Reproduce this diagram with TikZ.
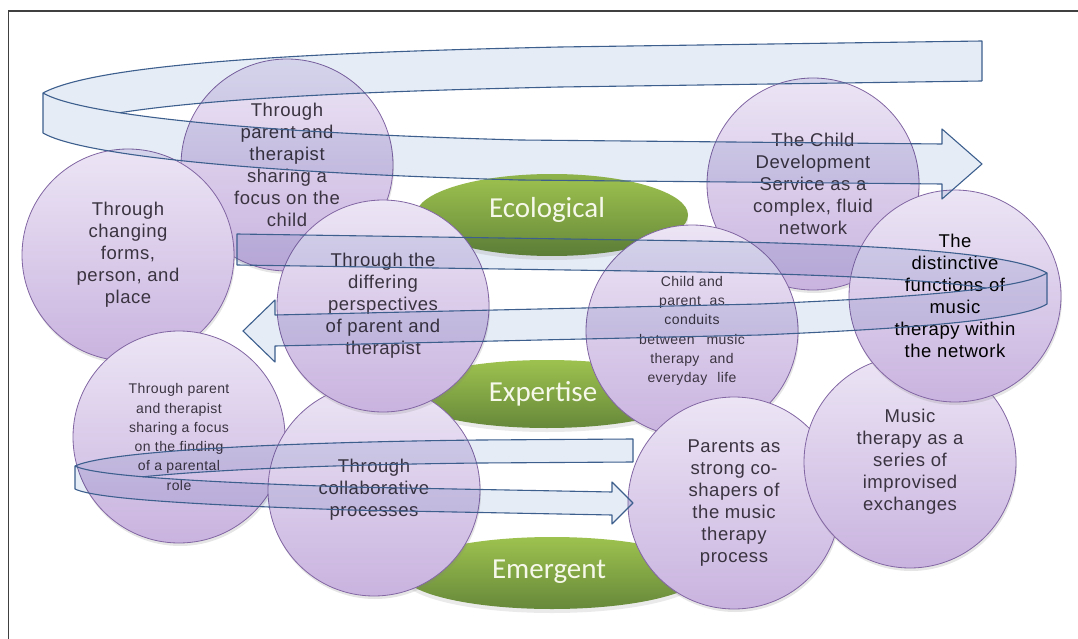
\documentclass[tikz,border=0pt]{standalone}
\usepackage{fontspec}
\setmainfont{Liberation Sans}
\newfontfamily\lvlfont{Carlito}
\newfontfamily\bubfont{Liberation Sans}[LetterSpace=3.0]
\usetikzlibrary{shapes.geometric,shadows,intersections}
\definecolor{lavtop}{HTML}{ECE5F5}
\definecolor{lavbot}{HTML}{C9B3DF}
\definecolor{lavline}{HTML}{8266A3}
\definecolor{grtop}{HTML}{9EC24F}
\definecolor{grbot}{HTML}{66883A}
\definecolor{ribfill}{HTML}{E6ECF5}
\definecolor{ribline}{HTML}{3C5F8E}
\definecolor{txt}{HTML}{3A3340}
\definecolor{framec}{HTML}{404040}
\definecolor{lvltxt}{HTML}{F6F8EA}
\begin{document}
\begin{tikzpicture}[x=1pt,y=-1pt,
  bubble/.style={circle, minimum size=212pt, inner sep=0pt, draw=lavline, line width=0.8pt,
    top color=lavtop, bottom color=lavbot,
    drop shadow={opacity=0.2, shadow xshift=1pt, shadow yshift=-3pt},
    align=center, text=txt, font=\bubfont\fontsize{18.5}{22}\selectfont},
  smallbub/.style={bubble, font=\bubfont\fontsize{14}{19.3}\selectfont},
  greenell/.style={ellipse, inner sep=0pt, top color=grtop, bottom color=grbot, draw=none,
    drop shadow={opacity=0.16, shadow xshift=0pt, shadow yshift=-4pt}},
  lvltext/.style={anchor=base, inner sep=0pt, text=lvltxt, font=\lvlfont\fontsize{29}{30}\selectfont},
  rib/.style={draw=ribline, line width=1.1pt, line join=round},
  ribf/.style={fill=ribfill},
]
\useasboundingbox (0,0) rectangle (1078,639);
\coordinate (O) at (0,0);
\coordinate (Bot) at (1078,639);
\fill[white] (0,0) rectangle (1078,639);
% frame
\draw[framec, line width=1.8pt] (1078,11) -- (8.5,11) -- (8.5,639);

% level ellipses
\node[greenell, minimum width=272pt, minimum height=82pt] (eco) at (552,215) {};
\node[greenell, minimum width=285pt, minimum height=68pt] (exp) at (547,394) {};
\node[greenell, minimum width=300pt, minimum height=72pt] (emg) at (552,573) {};

% circles, back to front
\node[bubble] (c1) at (287,165) {Through\\parent and\\therapist\\sharing a\\focus on the\\child};
\node[bubble] (c2) at (128,255) {Through\\changing\\forms,\\person, and\\place};
\node[smallbub] (c4) at (179,437) {Through parent\\and therapist\\sharing a focus\\on the finding\\of a parental\\role};
\node[bubble] (c5) at (374,490) {Through\\collaborative\\processes};
\node[bubble] (c3) at (383,306) {Through the\\differing\\perspectives\\of parent and\\therapist};
\node[bubble] (c6) at (813,184) {The Child\\Development\\Service as a\\complex, fluid\\network};
\node[smallbub] (c8) at (692,331) {Child and\\parent\ \ as\\conduits\\between\hspace{12pt}music\\therapy\hspace{10pt}and\\everyday\hspace{10pt}life};
\node[bubble] (c9) at (734,503) {Parents as\\strong co-\\shapers of\\the music\\therapy\\process};
\node[bubble] (c10) at (910,462) {Music\\therapy as a\\series of\\improvised\\exchanges};
\node[bubble, text=black] (c7) at (955,296) {The\\distinctive\\functions of\\music\\therapy within\\the network};

% level labels
\node[lvltext] (ecoT) at (547,218) {Ecological};
\node[lvltext] (expT) at (543,401) {Expertise};
\node[lvltext] (emgT) at (549,578) {Emergent};

% ===== ribbon fills (multiplied over the bubbles) =====
\begin{scope}[blend mode=multiply]
\fill[ribf]
 (982,41) -- (560,47) .. controls (330,52) and (100,62) .. (43,93) -- (43,133)
   .. controls (100,102) and (330,92) .. (560,87) -- (982,81) -- cycle
 (43,93) -- (43,133) .. controls (75,152) and (220,172) .. (520,180) -- (942,184)
   -- (942,199) -- (982,164) -- (942,129) -- (942,144) -- (520,140)
   .. controls (220,132) and (75,112) .. (43,93) -- cycle;
\fill[ribf]
 (237,234) -- (700,241) .. controls (880,245) and (1010,252) .. (1047,273) -- (1047,304)
   .. controls (1010,283) and (880,276) .. (700,272) -- (237,265) -- cycle
 (1047,273) -- (1047,304) .. controls (1020,321) and (900,329) .. (760,335) -- (275,346)
   -- (275,362) -- (243,331) -- (275,300) -- (275,315) -- (760,304)
   .. controls (900,298) and (1020,290) .. (1047,273) -- cycle;
\fill[ribf]
 (633,439) -- (480,440) .. controls (300,442) and (110,450) .. (75,466) -- (75,489)
   .. controls (110,473) and (300,465) .. (480,463) -- (633,462) -- cycle
 (75,466) -- (75,489) .. controls (95,499) and (200,505) .. (350,510) -- (612,515)
   -- (612,524) -- (633,503) -- (612,482) -- (612,492) -- (350,487)
   .. controls (200,482) and (95,476) .. (75,466) -- cycle;
\end{scope}

% ===== top ribbon outline (loop at left, head at right) =====
\path[name path=bba] (43,133) .. controls (100,102) and (330,92) .. (560,87) -- (982,81);
\path[name path=fta] (43,93) .. controls (75,112) and (220,132) .. (520,140) -- (942,144);
\path[name intersections={of=bba and fta, by=Xa}];
\draw[rib] (982,81) -- (982,41) -- (560,47) .. controls (330,52) and (100,62) .. (43,93);
\begin{scope}
\clip (Xa |- O) rectangle (Bot);
\draw[rib] (43,133) .. controls (100,102) and (330,92) .. (560,87) -- (982,81);
\end{scope}
\draw[rib] (43,93) -- (43,133) .. controls (75,152) and (220,172) .. (520,180) -- (942,184)
   -- (942,199) -- (982,164) -- (942,129) -- (942,144) -- (520,140)
   .. controls (220,132) and (75,112) .. (43,93) -- cycle;

% ===== middle ribbon outline (loop at right, head at left) =====
\path[name path=bbb] (237,265) -- (700,272) .. controls (880,276) and (1010,283) .. (1047,304);
\path[name path=ftb] (1047,273) .. controls (1020,290) and (900,298) .. (760,304) -- (275,315);
\path[name intersections={of=bbb and ftb, by=Xb}];
\draw[rib] (237,265) -- (237,234) -- (700,241) .. controls (880,245) and (1010,252) .. (1047,273);
\begin{scope}
\clip (O) rectangle (Xb |- Bot);
\draw[rib] (237,265) -- (700,272) .. controls (880,276) and (1010,283) .. (1047,304);
\end{scope}
\draw[rib] (1047,273) -- (1047,304) .. controls (1020,321) and (900,329) .. (760,335) -- (275,346)
   -- (275,362) -- (243,331) -- (275,300) -- (275,315) -- (760,304)
   .. controls (900,298) and (1020,290) .. (1047,273) -- cycle;

% ===== bottom ribbon outline (loop at left, head at right) =====
\path[name path=bbc] (75,489) .. controls (110,473) and (300,465) .. (480,463) -- (633,462);
\path[name path=ftc] (75,466) .. controls (95,476) and (200,482) .. (350,487) -- (612,492);
\path[name intersections={of=bbc and ftc, by=Xc}];
\draw[rib] (633,462) -- (633,439) -- (480,440) .. controls (300,442) and (110,450) .. (75,466);
\begin{scope}
\clip (Xc |- O) rectangle (Bot);
\draw[rib] (75,489) .. controls (110,473) and (300,465) .. (480,463) -- (633,462);
\end{scope}
\draw[rib] (75,466) -- (75,489) .. controls (95,499) and (200,505) .. (350,510) -- (612,515)
   -- (612,524) -- (633,503) -- (612,482) -- (612,492) -- (350,487)
   .. controls (200,482) and (95,476) .. (75,466) -- cycle;
\end{tikzpicture}
\end{document}
